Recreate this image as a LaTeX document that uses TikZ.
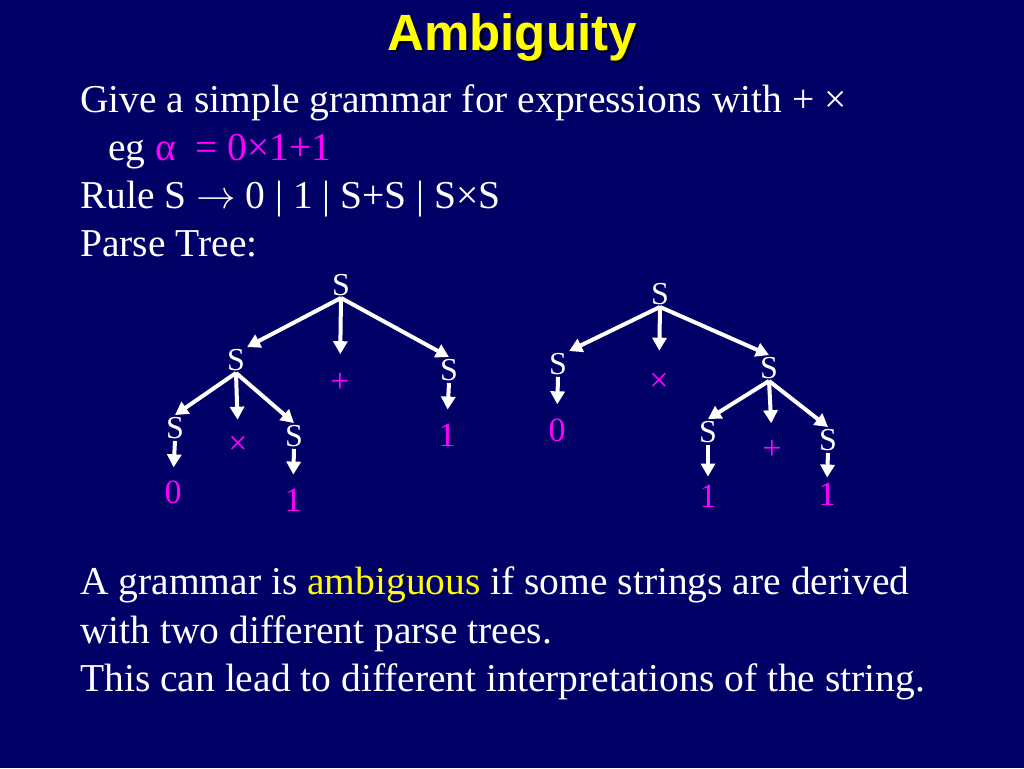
\documentclass[tikz,border=0pt]{standalone}
\usepackage{fix-cm}
\usepackage{fontspec}
\setmainfont{Liberation Serif}
\newfontfamily\titlefont{Liberation Sans}
\usetikzlibrary{arrows.meta}
\definecolor{bg}{RGB}{0,0,102}
\definecolor{mag}{RGB}{255,0,255}
\definecolor{ttl}{RGB}{255,255,0}
\definecolor{shade}{RGB}{0,0,20}
\begin{document}
\begin{tikzpicture}[x=1pt,y=-1pt,
  body/.style={anchor=base west, inner sep=0pt, text=white, font=\fontsize{39.5}{46}\selectfont},
  sym/.style={inner sep=2pt, text=white, font=\fontsize{32}{38}\selectfont},
  leaf/.style={inner sep=2pt, text=mag, font=\fontsize{34}{40}\selectfont},
  arr/.style={white, line width=4pt, -{Triangle[length=13pt,width=14pt]}},
  titlestyle/.style={anchor=base, inner sep=0pt, font=\titlefont\bfseries\fontsize{51}{60}\selectfont}]
\fill[bg] (0,0) rectangle (1024,768);
\useasboundingbox (0,0) rectangle (1024,768);
% title with drop shadow
\node[titlestyle, text=ttl] (title) at (512,50) {\rlap{\hspace{2.5pt}\raisebox{-2.5pt}{\color{shade}Ambiguity}}Ambiguity};
% body text
\node[body] (l1) at (80,112) {Give a simple grammar for expressions with + ×};
\node[body] (l2) at (108,160) {eg \textcolor{mag}{α\ \ = 0×1+1}};
\node[body] (l3) at (80,208) {Rule S $\rightarrow$ 0 | 1 | S+S | S×S};
\node[body] (l4) at (80,256) {Parse Tree:};
\node[body] (m1) at (80,594) {A grammar is \textcolor{ttl}{ambiguous} if some strings are derived};
\node[body] (m2) at (80,643) {with two different parse trees.};
\node[body] (m3) at (80,691) {This can lead to different interpretations of the string.};
% tree 1
\node[sym] (r1) at (341,285) {S};
\node[sym] (a1) at (236,360) {S};
\node[leaf] (p1) at (340,383) {+};
\node[sym] (b1) at (449,370) {S};
\node[sym] (c1) at (175,428) {S};
\node[leaf] (t1) at (238,445) {×};
\node[sym] (d1) at (294,436) {S};
\node[leaf] (z1) at (173,492) {0};
\node[leaf] (o1) at (293,500) {1};
\node[leaf] (o1r) at (447,435) {1};
\draw[arr] (r1.south) -- (a1.north east);
\draw[arr, shorten >=17pt] (r1.south) -- (p1.north);
\draw[arr] (r1.south) -- (b1.north);
\draw[arr] (a1.south) -- (c1.north);
\draw[arr, shorten >=14pt] (a1.south) -- (t1.north);
\draw[arr] (a1.south) -- (d1.north);
\draw[arr, shorten >=11pt] (c1.south) -- (z1.north);
\draw[arr, shorten >=12pt] (d1.south) -- (o1.north);
\draw[arr, shorten >=12pt] (b1.south) -- (o1r.north);
% tree 2
\node[sym] (r2) at (660,294) {S};
\node[sym] (a2) at (558,364) {S};
\node[leaf] (t2) at (659,382) {×};
\node[sym] (b2) at (769,368) {S};
\node[leaf] (z2) at (557,430) {0};
\node[sym] (c2) at (708,432) {S};
\node[leaf] (p2) at (772,450) {+};
\node[sym] (d2) at (828,440) {S};
\node[leaf] (o2) at (708,496) {1};
\node[leaf] (o2r) at (827,494) {1};
\draw[arr] (r2.south) -- (a2.north east);
\draw[arr, shorten >=20pt] (r2.south) -- (t2.north);
\draw[arr] (r2.south) -- (b2.north);
\draw[arr, shorten >=12pt] (a2.south) -- (z2.north);
\draw[arr] (b2.south) -- (c2.north);
\draw[arr, shorten >=15pt] (b2.south) -- (p2.north);
\draw[arr] (b2.south) -- (d2.north);
\draw[arr, shorten >=6pt] (c2.south) -- (o2.north);
\draw[arr, shorten >=3pt] (d2.south) -- (o2r.north);
\end{tikzpicture}
\end{document}
